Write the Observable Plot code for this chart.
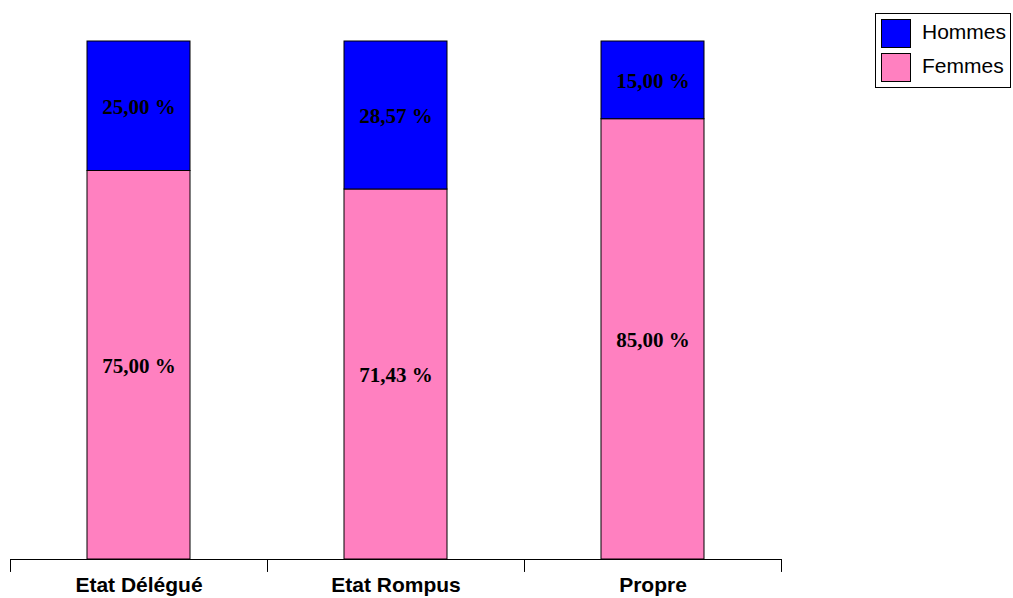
<!DOCTYPE html>
<html>
<head>
<meta charset="utf-8">
<script src="https://cdn.jsdelivr.net/npm/d3@7"></script>
<script src="https://cdn.jsdelivr.net/npm/@observablehq/plot@0.6"></script>
<style>
  html, body { margin: 0; padding: 0; background: #fff; }
  #wrap { position: relative; width: 1013px; height: 598px; }
  #legend { position: absolute; left: 875px; top: 13px; width: 136px; height: 75px;
    border: 1px solid #000; box-sizing: border-box; background: #fff;
    font-family: "Liberation Sans", Arial, sans-serif; font-size: 21px; }
  .item { position: absolute; left: 5px; height: 29px; display: flex; align-items: center; }
  .sw { width: 30px; height: 29px; border: 1px solid #000; box-sizing: border-box; margin-right: 11px; }
  .item span { position: relative; top: -2px; }
</style>
</head>
<body>
<div id="wrap"></div>
<script>
const categories = ["Etat Délégué", "Etat Rompus", "Propre"];
const femmes = [75.00, 71.43, 85.00];
const hommes = [25.00, 28.57, 15.00];
const seriesNames = ["Femmes", "Hommes"];
const seriesColors = ["#FF80C0", "#0000FF"];
const legendOrder = ["Hommes", "Femmes"];

const rows = [];
categories.forEach((c, i) => {
  rows.push({cat: c, sex: "Femmes", value: femmes[i]});
  rows.push({cat: c, sex: "Hommes", value: hommes[i]});
});
const fmt = v => v.toFixed(2).replace(".", ",") + " %";

const chart = Plot.plot({
  width: 1013,
  height: 598,
  marginTop: 41,
  marginBottom: 39,
  marginLeft: 10,
  marginRight: 232,
  style: {background: "#fff"},
  x: {domain: categories, padding: 0, label: null},
  y: {domain: [0, 100], axis: null},
  color: {domain: seriesNames, range: seriesColors},
  marks: [
    Plot.barY(rows, Plot.stackY({x: "cat", y: "value", z: "sex", fill: "sex", order: seriesNames,
      stroke: "#000", strokeWidth: 1, insetLeft: 77, insetRight: 77})),
    Plot.text(rows, Plot.stackY({x: "cat", y: "value", z: "sex", order: seriesNames,
      text: d => fmt(d.value), fontFamily: "Liberation Serif, Times New Roman, serif",
      fontWeight: "bold", fontSize: 21, fill: "#000", dy: 1})),
    Plot.ruleY([0], {stroke: "#000", strokeWidth: 1}),
    Plot.ruleX(categories, {x: d => d, dx: -128.5, y1: 0, y2: -2.5, stroke: "#000"}),
    Plot.ruleX(categories.slice(-1), {x: d => d, dx: 128.5, y1: 0, y2: -2.5, stroke: "#000"}),
    Plot.axisX({tickSize: 0, tickPadding: 18, fontSize: 21, fontWeight: "bold",
      fontFamily: "Liberation Sans, Arial, sans-serif", fill: "#000", label: null})
  ]
});
const wrap = document.getElementById("wrap");
wrap.appendChild(chart);

const legend = document.createElement("div");
legend.id = "legend";
legendOrder.forEach((name, i) => {
  const it = document.createElement("div");
  it.className = "item";
  it.style.top = (5 + i * 34) + "px";
  const sw = document.createElement("div");
  sw.className = "sw";
  sw.style.background = seriesColors[seriesNames.indexOf(name)];
  const t = document.createElement("span");
  t.textContent = name;
  it.appendChild(sw); it.appendChild(t);
  legend.appendChild(it);
});
wrap.appendChild(legend);
</script>
</body>
</html>
